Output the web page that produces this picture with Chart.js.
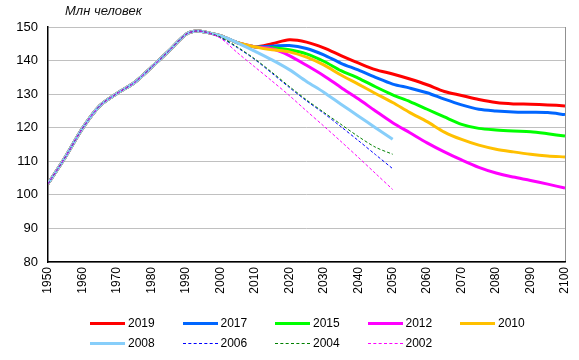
<!DOCTYPE html>
<html lang="ru">
<head>
<meta charset="UTF-8">
<script src="https://cdn.jsdelivr.net/npm/chart.js"></script>
<title>Население России</title>
<style>
  body { margin: 0; background: #fff; font-family: Arial, "Liberation Sans", sans-serif; }
  #wrap { position: relative; width: 579px; height: 360px; }
  #unit { position: absolute; left: 65px; top: 3px; font-size: 13px; font-style: italic; color: #111; }
  .leg { position: absolute; font-size: 12px; color: #000; height: 14px; line-height: 14px; white-space: nowrap; }
  .leg i { display: inline-block; width: 35px; vertical-align: middle; margin-right: 3px; }
</style>
</head>
<body>
<div id="wrap">
  <canvas id="chart" width="579" height="360"></canvas>
  <div id="unit">Млн человек</div>
</div>
<script>
// common history (solid series)
const histYears = [1950, 1955, 1960, 1965, 1970, 1975, 1980, 1985, 1990, 1993, 1996, 2000, 2005, 2010];
const histValues = [103.3, 111.2, 119.8, 126.5, 130.2, 133.4, 138, 142.8, 147.8, 148.8, 148.4, 147.4, 145.3, 144.1];

// forecast years
const longYears = [2015, 2020, 2025, 2030, 2035, 2040, 2045, 2050, 2055, 2060, 2065, 2070, 2075, 2080, 2085, 2090, 2095, 2100];
const shortYears = [2000, 2005, 2010, 2015, 2020, 2025, 2030, 2035, 2040, 2045, 2050];

const f2019 = [145, 146.2, 145.5, 143.8, 141.5, 139.3, 137.3, 136, 134.5, 132.8, 130.8, 129.6, 128.4, 127.5, 127.1, 127, 126.8, 126.5];
const f2017 = [144.3, 144.5, 143.6, 141.7, 139.2, 137.2, 135, 133, 131.8, 130.4, 128.5, 126.8, 125.5, 125, 124.7, 124.6, 124.5, 123.9];
const f2015 = [143.8, 143.2, 142, 139.8, 137, 134.8, 132.2, 129.8, 127.8, 125.5, 123.2, 121, 119.8, 119.3, 119, 118.8, 118.2, 117.5];
const f2012 = [143.5, 141.5, 138.6, 135.5, 132, 128.6, 125, 121.5, 118.5, 115.5, 112.8, 110.4, 108.2, 106.5, 105.3, 104.3, 103.2, 102];
const f2010 = [143.2, 142.6, 141, 138.7, 135.7, 133, 130.2, 127.5, 124.5, 121.8, 118.7, 116.5, 114.8, 113.6, 112.8, 112.1, 111.6, 111.3];
const f2008 = [147.4, 145.3, 142.8, 140.2, 137.3, 133.8, 130.6, 127, 123.5, 120, 116.6];
const f2006 = [146.8, 143.8, 140.3, 136.2, 132, 128, 124.3, 120.3, 116.2, 112, 107.8];
const f2004 = [147, 144, 140.5, 136.5, 132.3, 128.3, 124.6, 121, 117.4, 114.2, 112.1];
const f2002 = [146.7, 142.3, 138.1, 133.9, 129.6, 125, 120.5, 115.9, 111.2, 106.4, 101.6];

const seriesNames = ['2019', '2017', '2015', '2012', '2010', '2008', '2006', '2004', '2002'];
const seriesColors = ['#FF0000', '#0066FF', '#00FF00', '#FF00FF', '#FFC000', '#87CEFA', '#0000FF', '#008000', '#FF00FF'];

const yTicks = [80, 90, 100, 110, 120, 130, 140, 150];
const xTicks = [1950, 1960, 1970, 1980, 1990, 2000, 2010, 2020, 2030, 2040, 2050, 2060, 2070, 2080, 2090, 2100];

function pts(years, values) {
    return years.map(function (y, i) { return { x: y, y: values[i] }; });
}

// history up to (and incl.) the given year, then forecast
function build(lastHistYear, fYears, fValues) {
    let out = [];
    for (let i = 0; i < histYears.length; i++) {
        if (histYears[i] <= lastHistYear) out.push({ x: histYears[i], y: histValues[i] });
    }
    return out.concat(pts(fYears, fValues));
}

const allData = [
    build(2010, longYears, f2019),
    build(2010, longYears, f2017),
    build(2010, longYears, f2015),
    build(2010, longYears, f2012),
    build(2010, longYears, f2010),
    build(1996, shortYears, f2008),
    build(1996, shortYears, f2006),
    build(1996, shortYears, f2004),
    build(1996, shortYears, f2002)
];

let datasets = [];
for (let i = 0; i < seriesNames.length; i++) {
    const dashed = i >= 6;
    datasets.push({
        label: seriesNames[i],
        data: allData[i],
        borderColor: seriesColors[i],
        backgroundColor: seriesColors[i],
        borderWidth: dashed ? 1 : 3,
        borderDash: dashed ? [3, 2] : [],
        pointRadius: 0,
        tension: 0.3,
        fill: false,
        order: seriesNames.length - i
    });
}

// html legend, 5 columns
for (let i = 0; i < seriesNames.length; i++) {
    const d = document.createElement('div');
    d.className = 'leg';
    d.style.left = (90 + (i % 5) * 92.5) + 'px';
    d.style.top = (316 + Math.floor(i / 5) * 20) + 'px';
    const line = document.createElement('i');
    line.style.borderTop = i >= 6 ? '1px dashed ' + seriesColors[i] : '3px solid ' + seriesColors[i];
    d.appendChild(line);
    d.appendChild(document.createTextNode(seriesNames[i]));
    document.getElementById('wrap').appendChild(d);
}

new Chart(document.getElementById('chart'), {
    type: 'line',
    data: { datasets: datasets },
    options: {
        responsive: false,
        animation: false,
        layout: { padding: { top: 27, right: 14, bottom: 58, left: 0 } },
        plugins: {
            legend: { display: false },
            tooltip: { enabled: false }
        },
        scales: {
            x: {
                type: 'linear',
                min: 1950,
                max: 2100,
                afterBuildTicks: function (scale) {
                    scale.ticks = xTicks.map(function (v) { return { value: v }; });
                },
                afterFit: function (scale) {
                    scale.height = 40;
                    scale.paddingLeft = 0;
                    scale.paddingRight = 0;
                },
                ticks: {
                    autoSkip: false,
                    minRotation: 90,
                    maxRotation: 90,
                    padding: 5,
                    color: '#000',
                    font: { family: 'Arial, "Liberation Sans"', size: 12 },
                    callback: function (v) { return String(v); }
                },
                grid: {
                    drawTicks: false,
                    color: function (ctx) { return ctx.tick && ctx.tick.value === 2100 ? '#909090' : 'rgba(0,0,0,0)'; }
                },
                border: { color: '#000', width: 1.5 }
            },
            y: {
                min: 80,
                max: 150,
                afterBuildTicks: function (scale) {
                    scale.ticks = yTicks.map(function (v) { return { value: v }; });
                },
                afterFit: function (scale) {
                    scale.width = 48;
                    scale.paddingTop = 0;
                    scale.paddingBottom = 0;
                },
                ticks: {
                    padding: 10,
                    color: '#000',
                    font: { family: 'Arial, "Liberation Sans"', size: 13 }
                },
                grid: { drawTicks: false, color: '#C0C0C0', lineWidth: 1 },
                border: { color: '#000', width: 1.5 }
            }
        }
    }
});
</script>
</body>
</html>
